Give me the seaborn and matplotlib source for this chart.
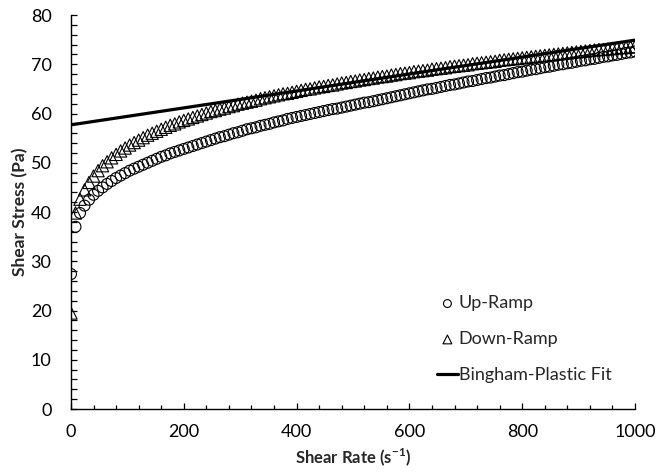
import matplotlib
matplotlib.use("Agg")
import matplotlib.pyplot as plt
import pandas as pd
import seaborn as sns
from matplotlib.ticker import MultipleLocator

# Shear-rate set points of the ramp (s^-1)
shear_rate = list(range(0, 1001, 8))

# Measured shear stress (Pa), increasing ramp
up_ramp = [
    27.4, 37.0, 39.8, 41.3, 42.5, 43.5, 44.3, 45.0, 45.7, 46.3,
    46.9, 47.4, 47.9, 48.4, 48.8, 49.2, 49.6, 50.0, 50.4, 50.8,
    51.2, 51.5, 51.9, 52.2, 52.5, 52.8, 53.1, 53.4, 53.7, 54.0,
    54.3, 54.6, 54.9, 55.2, 55.4, 55.7, 56.0, 56.2, 56.5, 56.8,
    57.0, 57.2, 57.5, 57.7, 57.9, 58.2, 58.4, 58.6, 58.9, 59.1,
    59.3, 59.5, 59.7, 59.9, 60.1, 60.3, 60.5, 60.7, 60.9, 61.0,
    61.2, 61.4, 61.6, 61.8, 62.0, 62.2, 62.3, 62.5, 62.7, 62.9,
    63.1, 63.3, 63.5, 63.7, 63.9, 64.1, 64.3, 64.5, 64.7, 64.9,
    65.0, 65.2, 65.4, 65.6, 65.8, 65.9, 66.1, 66.3, 66.5, 66.6,
    66.8, 67.0, 67.2, 67.3, 67.5, 67.7, 67.8, 68.0, 68.2, 68.4,
    68.5, 68.7, 68.9, 69.0, 69.2, 69.4, 69.5, 69.7, 69.9, 70.0,
    70.2, 70.3, 70.5, 70.7, 70.8, 71.0, 71.1, 71.3, 71.5, 71.6,
    71.8, 71.9, 72.1, 72.3, 72.4, 72.6,
]

# Measured shear stress (Pa), decreasing ramp
down_ramp = [
    19.5, 39.8, 42.6, 44.5, 46.0, 47.3, 48.4, 49.4, 50.2, 51.0,
    51.7, 52.4, 53.0, 53.6, 54.1, 54.6, 55.1, 55.6, 56.0, 56.4,
    56.8, 57.2, 57.6, 57.9, 58.3, 58.6, 58.9, 59.2, 59.5, 59.8,
    60.1, 60.4, 60.6, 60.9, 61.1, 61.4, 61.6, 61.9, 62.1, 62.3,
    62.5, 62.7, 63.0, 63.2, 63.4, 63.6, 63.8, 64.0, 64.1, 64.3,
    64.5, 64.7, 64.9, 65.0, 65.2, 65.4, 65.5, 65.7, 65.8, 66.0,
    66.2, 66.3, 66.5, 66.6, 66.8, 66.9, 67.1, 67.2, 67.4, 67.5,
    67.6, 67.8, 67.9, 68.1, 68.2, 68.3, 68.5, 68.6, 68.7, 68.8,
    69.0, 69.1, 69.2, 69.3, 69.5, 69.6, 69.7, 69.8, 69.9, 70.1,
    70.2, 70.3, 70.4, 70.5, 70.6, 70.8, 70.9, 71.0, 71.1, 71.2,
    71.3, 71.4, 71.5, 71.6, 71.7, 71.8, 71.9, 72.0, 72.1, 72.2,
    72.3, 72.4, 72.5, 72.6, 72.7, 72.8, 72.9, 73.0, 73.0, 73.1,
    73.2, 73.3, 73.4, 73.4, 73.5, 73.6,
]

# Bingham-plastic fit: yield stress + plastic viscosity * rate
fit_rate = [0, 1000]
fit_stress = [57.7, 74.9]

x_ticks = [0, 200, 400, 600, 800, 1000]
y_ticks = [0, 10, 20, 30, 40, 50, 60, 70, 80]

sns.set_style("ticks")
plt.rcParams["font.family"] = ["Lato", "DejaVu Sans"]
plt.rcParams["mathtext.fontset"] = "custom"
plt.rcParams["mathtext.rm"] = "Lato"
plt.rcParams["mathtext.bf"] = "Lato:bold"

up_df = pd.DataFrame({"rate": shear_rate, "stress": up_ramp})
down_df = pd.DataFrame({"rate": shear_rate, "stress": down_ramp})
fit_df = pd.DataFrame({"rate": fit_rate, "stress": fit_stress})

fig = plt.figure(figsize=(6.56, 4.75), dpi=100)
ax = fig.add_axes([0.1082, 0.1389, 0.8598, 0.8295])

sns.scatterplot(data=up_df, x="rate", y="stress", ax=ax, marker="o", s=62,
                facecolor="none", edgecolor="black", linewidth=0.8,
                label="Up-Ramp", zorder=3)
sns.scatterplot(data=down_df, x="rate", y="stress", ax=ax, marker="^", s=78,
                facecolor="none", edgecolor="black", linewidth=0.8,
                label="Down-Ramp", zorder=3)
sns.lineplot(data=fit_df, x="rate", y="stress", ax=ax, color="black",
             linewidth=2.3, label="Bingham-Plastic Fit", zorder=4)

ax.set_xlim(0, 1000)
ax.set_ylim(0, 80)
ax.set_xticks(x_ticks)
ax.set_yticks(y_ticks)
ax.xaxis.set_minor_locator(MultipleLocator(40))
ax.yaxis.set_minor_locator(MultipleLocator(2))
ax.tick_params(axis="both", which="both", direction="in", color="black",
               width=0.9, labelsize=13, labelcolor="black")
ax.tick_params(axis="x", which="major", length=4.5, pad=11)
ax.tick_params(axis="x", which="minor", length=3)
ax.tick_params(axis="y", which="major", length=4.5, pad=14)
ax.tick_params(axis="y", which="minor", length=4)

sns.despine(ax=ax)
for side in ("left", "bottom"):
    ax.spines[side].set_color("black")
    ax.spines[side].set_linewidth(1.0)

ax.set_xlabel(r"Shear Rate (s$^{\mathbf{-1}}$)", fontsize=12, fontweight="bold",
              labelpad=4)
ax.set_ylabel("Shear Stress (Pa)", fontsize=12.5, fontweight="bold", labelpad=2)

leg = ax.legend(loc="lower left", bbox_to_anchor=(0.649, 0.066), frameon=False,
                fontsize=13, markerscale=0.72, handlelength=1.15,
                handletextpad=0.05, labelspacing=1.1, borderpad=0,
                borderaxespad=0)
for h in leg.legend_handles:
    if hasattr(h, "set_facecolor"):
        h.set_facecolor("none")

fig.savefig("out.png", dpi=100)
